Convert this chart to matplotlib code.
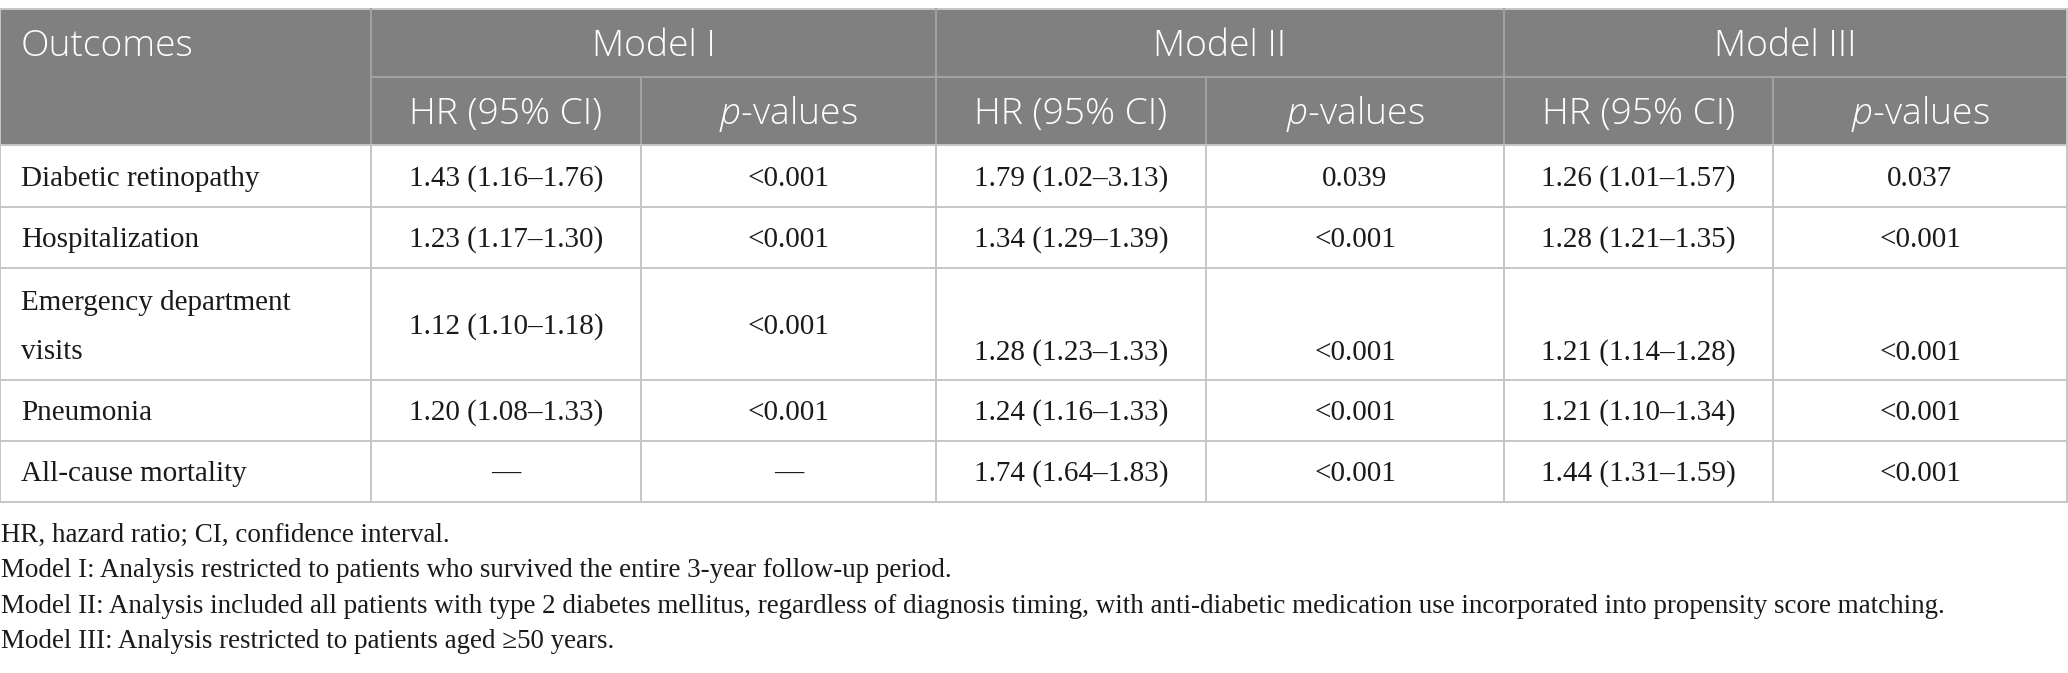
import matplotlib
matplotlib.use("Agg")
import matplotlib.pyplot as plt
from matplotlib.patches import Rectangle
from matplotlib import font_manager

# ---------------- data ----------------
outcomes = ["Diabetic retinopathy", "Hospitalization", "Emergency department\nvisits",
            "Pneumonia", "All-cause mortality"]
model_names = ["Model I", "Model II", "Model III"]
sub_headers = ["HR (95% CI)", "$\\mathit{p}$-values"]
hr_m1 = ["1.43 (1.16–1.76)", "1.23 (1.17–1.30)", "1.12 (1.10–1.18)", "1.20 (1.08–1.33)", "—"]
p_m1 = ["<0.001", "<0.001", "<0.001", "<0.001", "—"]
hr_m2 = ["1.79 (1.02–3.13)", "1.34 (1.29–1.39)", "1.28 (1.23–1.33)", "1.24 (1.16–1.33)", "1.74 (1.64–1.83)"]
p_m2 = ["0.039", "<0.001", "<0.001", "<0.001", "<0.001"]
hr_m3 = ["1.26 (1.01–1.57)", "1.28 (1.21–1.35)", "1.21 (1.14–1.28)", "1.21 (1.10–1.34)", "1.44 (1.31–1.59)"]
p_m3 = ["0.037", "<0.001", "<0.001", "<0.001", "<0.001"]
footnotes = [
    "HR, hazard ratio; CI, confidence interval.",
    "Model I: Analysis restricted to patients who survived the entire 3-year follow-up period.",
    "Model II: Analysis included all patients with type 2 diabetes mellitus, regardless of diagnosis timing, with anti-diabetic medication use incorporated into propensity score matching.",
    "Model III: Analysis restricted to patients aged \u226550 years.",
]

# ---------------- layout (pixels) ----------------
W, H = 2068, 673
col_x = [0, 371, 641, 936, 1206, 1504, 1773, 2067]
top, h_mid, h_bot = 9, 77, 145
row_y = [145, 207, 268, 380, 441, 502]
foot_base = [542, 577, 613, 648]

header_bg = "#808080"
header_line = "#a3a3a3"
grid = "#c6c6c6"
text_col = "#1a1a1a"

# look for a light-weight sans face for the header (fallback: Noto Sans regular)
head_family, head_weight = "Noto Sans", 400
found = False
for fe in font_manager.fontManager.ttflist:
    w = fe.weight
    if isinstance(w, str):
        w = {"light": 300, "extralight": 200, "normal": 400, "regular": 400}.get(w.lower(), 400)
    if fe.name in ("Noto Sans", "Open Sans") and fe.style == "normal" and 250 <= w <= 350:
        if not found or fe.name == "Noto Sans":
            head_family, head_weight = fe.name, w
            found = True

# italic face of the same family/weight for the "p"
it_spec = "%s:italic" % head_family
if found:
    for fe in font_manager.fontManager.ttflist:
        w = fe.weight
        if isinstance(w, str):
            w = {"light": 300, "extralight": 200, "normal": 400, "regular": 400}.get(w.lower(), 400)
        if fe.name == head_family and fe.style == "italic" and 250 <= w <= 350:
            it_spec = "%s:italic:weight=%d" % (head_family, w)
            break

plt.rcParams["mathtext.fontset"] = "custom"
plt.rcParams["mathtext.it"] = it_spec
plt.rcParams["mathtext.rm"] = head_family

head_font = dict(family=head_family, size=26.8, color="white", weight=head_weight)
body_font = dict(family="Liberation Serif", size=21, color=text_col)
foot_font = dict(family="Liberation Serif", size=19.45, color=text_col)

fig = plt.figure(figsize=(W / 100, H / 100), dpi=100)
ax = fig.add_axes([0, 0, 1, 1])
ax.set_xlim(0, W)
ax.set_ylim(H, 0)
ax.axis("off")

# header background
ax.add_patch(Rectangle((0, top), col_x[-1], h_bot - top, facecolor=header_bg,
                       edgecolor="none", zorder=0))

lw = 1.4
ax.plot([col_x[0], col_x[-1]], [top, top], color=grid, lw=lw, zorder=2)
ax.plot([col_x[1], col_x[-1]], [h_mid, h_mid], color=header_line, lw=lw, zorder=2)
for i, x in enumerate(col_x):
    if i in (0, len(col_x) - 1):
        ax.plot([x, x], [top, row_y[-1]], color=grid, lw=lw, zorder=2)
    elif i in (1, 3, 5):
        ax.plot([x, x], [top, h_bot], color=header_line, lw=lw, zorder=2)
        ax.plot([x, x], [h_bot, row_y[-1]], color=grid, lw=lw, zorder=2)
    else:
        ax.plot([x, x], [h_mid, h_bot], color=header_line, lw=lw, zorder=2)
        ax.plot([x, x], [h_bot, row_y[-1]], color=grid, lw=lw, zorder=2)
for y in row_y:
    ax.plot([col_x[0], col_x[-1]], [y, y], color=grid, lw=lw, zorder=2)

# header text
cap_head = 13
ax.text(21, (top + h_mid) / 2 + cap_head, "Outcomes", ha="left", va="baseline", **head_font)
for k, name in enumerate(model_names):
    cx = (col_x[1 + 2 * k] + col_x[3 + 2 * k]) / 2
    ax.text(cx, (top + h_mid) / 2 + cap_head, name, ha="center", va="baseline", **head_font)
    for j, sh in enumerate(sub_headers):
        sx = (col_x[1 + 2 * k + j] + col_x[2 + 2 * k + j]) / 2
        ax.text(sx, (h_mid + h_bot) / 2 + cap_head, sh, ha="center", va="baseline", **head_font)

# body
cap_body = 9.5
columns = [hr_m1, p_m1, hr_m2, p_m2, hr_m3, p_m3]
for r, label in enumerate(outcomes):
    y0, y1 = row_y[r], row_y[r + 1]
    yc = (y0 + y1) / 2
    lines = label.split("\n")
    if len(lines) == 1:
        ax.text(21, yc + cap_body, label, ha="left", va="baseline", **body_font)
    else:
        ax.text(21, 310, lines[0], ha="left", va="baseline", **body_font)
        ax.text(21, 359, lines[1], ha="left", va="baseline", **body_font)
    for c, vals in enumerate(columns):
        cx = (col_x[1 + c] + col_x[2 + c]) / 2
        yb = 360 if (len(lines) > 1 and c >= 2) else yc + cap_body
        ax.text(cx, yb, vals[r], ha="center", va="baseline", **body_font)

# footnotes
for t, yb in zip(footnotes, foot_base):
    ax.text(1, yb, t, ha="left", va="baseline", **foot_font)

fig.savefig("out.png", dpi=100)
